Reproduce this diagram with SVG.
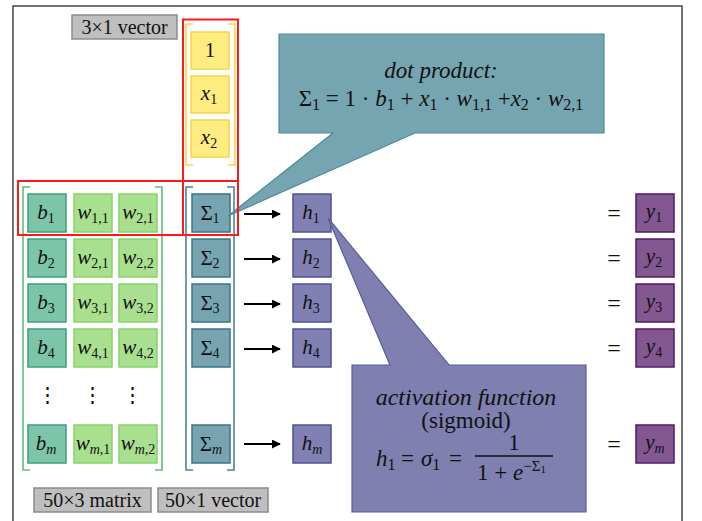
<svg xmlns="http://www.w3.org/2000/svg" width="702" height="521" viewBox="0 0 702 521">
<style>
text{font-family:"Liberation Serif","DejaVu Serif",serif;fill:#111}
.lbl{font-size:20px;text-anchor:middle}
.cell{font-size:21px;text-anchor:middle}
.it{font-style:italic}
.s{font-size:14px}
.gray{fill:#bfbfbf;stroke:#8c8c8c;stroke-width:1.5}
.yel{fill:#ffec80;stroke:#f7d44a;stroke-width:1.5}
.b{fill:#7cc5a8;stroke:#3c9f80;stroke-width:1.5}
.w{fill:#a9e08f;stroke:#88d46a;stroke-width:1.5}
.sg{fill:#76a4b1;stroke:#3e7484;stroke-width:1.5}
.h{fill:#8080b2;stroke:#4f5195;stroke-width:1.5}
.y{fill:#83578f;stroke:#52186a;stroke-width:1.5}
.br{fill:none;stroke-width:1.6}
.red{fill:none;stroke:#ff1a1a;stroke-width:2}
.eq{font-size:24px;text-anchor:middle}
.arr{stroke:#000;stroke-width:2;fill:none;marker-end:url(#ah)}
.big{font-size:23px;text-anchor:middle}
.bs{font-size:16px}
</style>
<defs>
<marker id="ah" viewBox="0 0 10 10" refX="9" refY="5" markerWidth="4.5" markerHeight="4.5" orient="auto" markerUnits="strokeWidth">
<path d="M0,0 L10,5 L0,10 Z" fill="#000"/>
</marker>
</defs>
<rect width="702" height="521" fill="#fff"/>
<path d="M13,521 V6 H682 V521" fill="none" stroke="#444" stroke-width="1.5"/>

<g id="label-3x1"><rect class="gray" x="72" y="15" width="105" height="24"/><text class="lbl" x="124.5" y="33.5">3×1 vector</text></g>
<g id="label-50x3"><rect class="gray" x="34" y="488" width="117" height="24"/><text class="lbl" x="92.5" y="506.5">50×3 matrix</text></g>
<g id="label-50x1"><rect class="gray" x="158" y="488" width="110" height="24"/><text class="lbl" x="213" y="506.5">50×1 vector</text></g>

<g id="x-vector">
<path class="br" stroke="#f9d84a" d="M193,24 H186 V165 H193 M228,24 H235 V165 H228"/>
<rect class="yel" x="191" y="32" width="38" height="37"/><text class="cell" x="210" y="57">1</text>
<rect class="yel" x="191" y="76" width="38" height="37"/><text class="cell" x="209" y="100"><tspan class="it">x</tspan><tspan class="s" dy="4">1</tspan></text>
<rect class="yel" x="191" y="120" width="38" height="37"/><text class="cell" x="209" y="144"><tspan class="it">x</tspan><tspan class="s" dy="4">2</tspan></text>
</g>

<g id="matrix">
<path class="br" stroke="#5fbf7d" d="M30,187 H23 V470 H30 M155,187 H162 V470 H155"/>
<g id="row1">
<rect class="b" x="28" y="194" width="38" height="38"/><text class="cell" x="46" y="219"><tspan class="it">b</tspan><tspan class="s" dy="4">1</tspan></text>
<rect class="w" x="74" y="194" width="38" height="38"/><text class="cell" x="93" y="219"><tspan class="it">w</tspan><tspan class="s" dy="4">1,1</tspan></text>
<rect class="w" x="119" y="194" width="38" height="38"/><text class="cell" x="138" y="219"><tspan class="it">w</tspan><tspan class="s" dy="4">2,1</tspan></text>
</g>
<g id="row2">
<rect class="b" x="28" y="239" width="38" height="38"/><text class="cell" x="46" y="264"><tspan class="it">b</tspan><tspan class="s" dy="4">2</tspan></text>
<rect class="w" x="74" y="239" width="38" height="38"/><text class="cell" x="93" y="264"><tspan class="it">w</tspan><tspan class="s" dy="4">2,1</tspan></text>
<rect class="w" x="119" y="239" width="38" height="38"/><text class="cell" x="138" y="264"><tspan class="it">w</tspan><tspan class="s" dy="4">2,2</tspan></text>
</g>
<g id="row3">
<rect class="b" x="28" y="284" width="38" height="38"/><text class="cell" x="46" y="309"><tspan class="it">b</tspan><tspan class="s" dy="4">3</tspan></text>
<rect class="w" x="74" y="284" width="38" height="38"/><text class="cell" x="93" y="309"><tspan class="it">w</tspan><tspan class="s" dy="4">3,1</tspan></text>
<rect class="w" x="119" y="284" width="38" height="38"/><text class="cell" x="138" y="309"><tspan class="it">w</tspan><tspan class="s" dy="4">3,2</tspan></text>
</g>
<g id="row4">
<rect class="b" x="28" y="329" width="38" height="38"/><text class="cell" x="46" y="354"><tspan class="it">b</tspan><tspan class="s" dy="4">4</tspan></text>
<rect class="w" x="74" y="329" width="38" height="38"/><text class="cell" x="93" y="354"><tspan class="it">w</tspan><tspan class="s" dy="4">4,1</tspan></text>
<rect class="w" x="119" y="329" width="38" height="38"/><text class="cell" x="138" y="354"><tspan class="it">w</tspan><tspan class="s" dy="4">4,2</tspan></text>
</g>
<g id="dots">
<text class="cell" x="47" y="402">⋮</text><text class="cell" x="92" y="402">⋮</text><text class="cell" x="132" y="402">⋮</text>
</g>
<g id="rowm">
<rect class="b" x="28" y="425" width="38" height="38"/><text class="cell" x="46" y="450"><tspan class="it">b</tspan><tspan class="s it" dy="4">m</tspan></text>
<rect class="w" x="74" y="425" width="38" height="38"/><text class="cell" x="93" y="450"><tspan class="it">w</tspan><tspan class="s" dy="4"><tspan class="it">m</tspan>,1</tspan></text>
<rect class="w" x="119" y="425" width="38" height="38"/><text class="cell" x="138" y="450"><tspan class="it">w</tspan><tspan class="s" dy="4"><tspan class="it">m</tspan>,2</tspan></text>
</g>
</g>

<g id="sigma-vector">
<path class="br" stroke="#4a8496" d="M193,187 H186 V470 H193 M227,187 H234 V470 H227"/>
<g id="s1"><rect class="sg" x="192" y="194" width="38" height="38"/><text class="cell" x="210" y="220">Σ<tspan class="s" dy="3">1</tspan></text></g>
<g id="s2"><rect class="sg" x="192" y="239" width="38" height="38"/><text class="cell" x="210" y="265">Σ<tspan class="s" dy="3">2</tspan></text></g>
<g id="s3"><rect class="sg" x="192" y="284" width="38" height="38"/><text class="cell" x="210" y="310">Σ<tspan class="s" dy="3">3</tspan></text></g>
<g id="s4"><rect class="sg" x="192" y="329" width="38" height="38"/><text class="cell" x="210" y="355">Σ<tspan class="s" dy="3">4</tspan></text></g>
<g id="sm"><rect class="sg" x="192" y="425" width="38" height="38"/><text class="cell" x="211" y="451">Σ<tspan class="s it" dy="3">m</tspan></text></g>
</g>

<g id="h1"><rect class="h" x="293" y="194" width="38" height="38"/><text class="cell" x="311" y="219"><tspan class="it">h</tspan><tspan class="s" dy="4">1</tspan></text></g>
<g id="h2"><rect class="h" x="293" y="239" width="38" height="38"/><text class="cell" x="311" y="264"><tspan class="it">h</tspan><tspan class="s" dy="4">2</tspan></text></g>
<g id="h3"><rect class="h" x="293" y="284" width="38" height="38"/><text class="cell" x="311" y="309"><tspan class="it">h</tspan><tspan class="s" dy="4">3</tspan></text></g>
<g id="h4"><rect class="h" x="293" y="329" width="38" height="38"/><text class="cell" x="311" y="354"><tspan class="it">h</tspan><tspan class="s" dy="4">4</tspan></text></g>
<g id="hm"><rect class="h" x="293" y="425" width="38" height="38"/><text class="cell" x="312" y="450"><tspan class="it">h</tspan><tspan class="s it" dy="4">m</tspan></text></g>

<g id="y1"><text class="eq" x="614" y="221">=</text><rect class="y" x="636" y="194" width="38" height="38"/><text class="cell" x="654" y="218"><tspan class="it">y</tspan><tspan class="s" dy="4">1</tspan></text></g>
<g id="y2"><text class="eq" x="614" y="266">=</text><rect class="y" x="636" y="239" width="38" height="38"/><text class="cell" x="654" y="263"><tspan class="it">y</tspan><tspan class="s" dy="4">2</tspan></text></g>
<g id="y3"><text class="eq" x="614" y="311">=</text><rect class="y" x="636" y="284" width="38" height="38"/><text class="cell" x="654" y="308"><tspan class="it">y</tspan><tspan class="s" dy="4">3</tspan></text></g>
<g id="y4"><text class="eq" x="614" y="356">=</text><rect class="y" x="636" y="329" width="38" height="38"/><text class="cell" x="654" y="353"><tspan class="it">y</tspan><tspan class="s" dy="4">4</tspan></text></g>
<g id="ym"><text class="eq" x="614" y="452">=</text><rect class="y" x="636" y="425" width="38" height="38"/><text class="cell" x="655" y="449"><tspan class="it">y</tspan><tspan class="s it" dy="4">m</tspan></text></g>

<g id="connectors">
<line class="arr" x1="244" y1="214" x2="280" y2="214"/>
<line class="arr" x1="244" y1="259" x2="280" y2="259"/>
<line class="arr" x1="244" y1="304" x2="280" y2="304"/>
<line class="arr" x1="244" y1="349" x2="280" y2="349"/>
<line class="arr" x1="244" y1="444" x2="280" y2="444"/>
</g>

<g id="callout-dot">
<path d="M279,34 H604 V133 H415 L228,216 L333,133 H279 Z" fill="#76a5b2" stroke="#4e8a99" stroke-width="1.2"/>
<text class="big it" x="441" y="78">dot product:</text>
<text class="big" x="441" y="106">Σ<tspan class="bs" dy="4">1</tspan><tspan dy="-4"> = 1 · </tspan><tspan class="it">b</tspan><tspan class="bs" dy="4">1</tspan><tspan dy="-4"> + </tspan><tspan class="it">x</tspan><tspan class="bs" dy="4">1</tspan><tspan dy="-4"> · </tspan><tspan class="it">w</tspan><tspan class="bs" dy="4">1,1</tspan><tspan dy="-4"> +</tspan><tspan class="it">x</tspan><tspan class="bs" dy="4">2</tspan><tspan dy="-4"> · </tspan><tspan class="it">w</tspan><tspan class="bs" dy="4">2,1</tspan></text>
</g>

<g id="callout-activation">
<path d="M352,365 H390 L328,218 L449,365 H586 V512 H352 Z" fill="#7f7fb0" stroke="#5b5c9d" stroke-width="1.2"/>
<text class="big it" x="466" y="405" style="font-size:24px">activation function</text>
<text class="big" x="466" y="428">(sigmoid)</text>
<text style="font-size:23px" x="376" y="466"><tspan class="it">h</tspan><tspan class="bs" dy="4">1</tspan><tspan x="401" dy="-4">=</tspan><tspan class="it" x="421">σ</tspan><tspan class="bs" dy="4">1</tspan><tspan x="449" dy="-4">=</tspan></text>
<text class="big" x="514" y="450">1</text>
<line x1="475" y1="456" x2="553" y2="456" stroke="#111" stroke-width="1.4"/>
<text style="font-size:23px" x="477" y="480">1 + <tspan class="it">e</tspan><tspan dy="-9" style="font-size:15px">−Σ</tspan><tspan dy="2" style="font-size:11px">1</tspan></text>
</g>

<g id="highlights">
<rect class="red" x="183" y="19.5" width="55" height="215.5"/>
<rect class="red" x="18" y="181" width="220" height="54"/>
</g>
</svg>
